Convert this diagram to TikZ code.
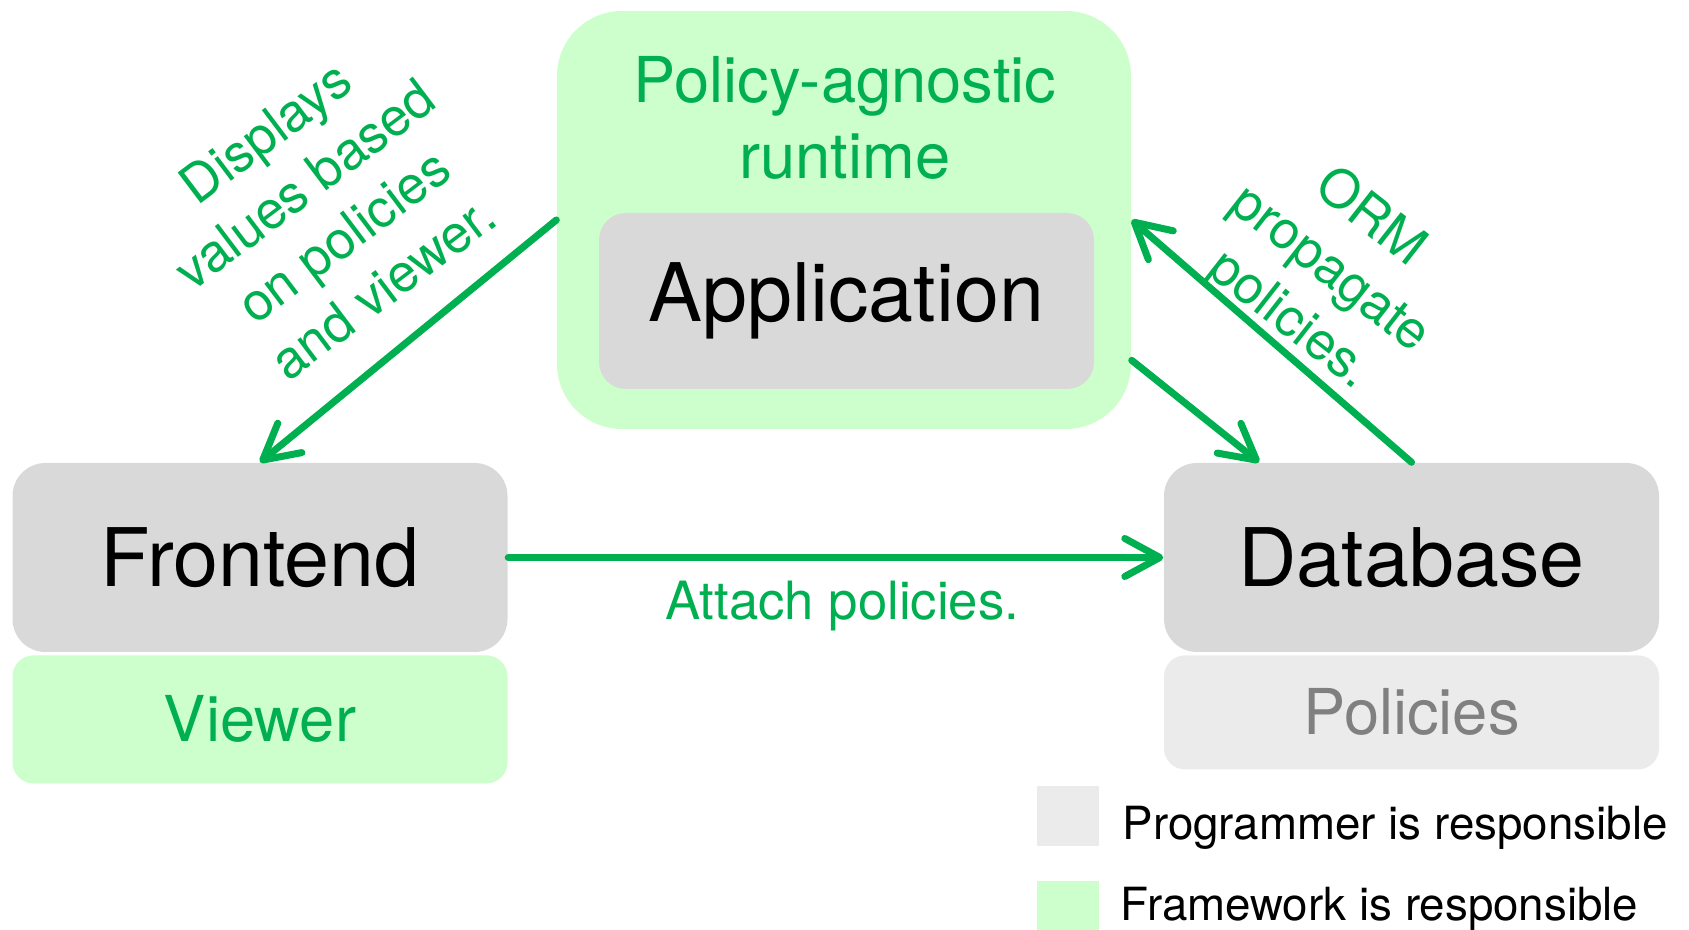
\documentclass[tikz,border=0pt]{standalone}
\usepackage{fontspec}
\setmainfont{TeX Gyre Heros}
\definecolor{fwgreen}{RGB}{0, 176, 80}
\definecolor{fwfill}{RGB}{204, 255, 204}
\definecolor{boxgray}{RGB}{217, 217, 217}
\definecolor{proggray}{RGB}{235, 235, 235}
\definecolor{textgray}{RGB}{128, 128, 128}
\usetikzlibrary{arrows.meta,positioning}

\begin{document}
\begin{tikzpicture}[x=1cm,y=1cm,
    box/.style={rounded corners=0.33cm,inner sep=0pt,minimum width=4.95cm,minimum height=1.89cm,fill=boxgray,font=\fontsize{23}{27}\selectfont},
    sub/.style={rounded corners=0.21cm,inner sep=0pt,minimum width=4.95cm,font=\fontsize{18}{21}\selectfont},
    flow/.style={line width=2pt,fwgreen,line cap=round,-{Straight Barb[length=3.5mm,width=3.8mm,round]}},
    lbl/.style={fwgreen,align=center,inner sep=0pt,font=\fontsize{15}{18.5}\selectfont},
    key/.style={inner sep=0pt,minimum width=0.62cm},
    keytext/.style={anchor=base west,inner sep=0pt,font=\fontsize{13}{15}\selectfont}]
  \useasboundingbox (0,0) rectangle (16.89,9.30);

  % runtime, application inside
  \node[fill=fwfill,inner sep=0pt,rounded corners=0.65cm,minimum width=5.74cm,minimum height=4.18cm] (runtime) at (8.44,7.10) {};
  \node[box,minimum height=1.76cm,rounded corners=0.27cm] (app) at (8.465,6.29) {Application};
  \node[fwgreen,align=center,inner sep=0pt,anchor=north,font=\fontsize{18}{21.6}\selectfont] (rtlabel) at (8.45,8.74) {Policy-agnostic\\runtime};

  % frontend and database
  \node[box] (frontend) at (2.60,3.725) {Frontend};
  \node[sub,fill=fwfill,text=fwgreen,minimum height=1.28cm,below=0.02cm of frontend] (viewer) {Viewer};
  \node[box] (database) at (14.115,3.725) {Database};
  \node[sub,fill=proggray,text=textgray,minimum height=1.14cm,below=0.02cm of database] (policies) {Policies};

  % flows
  \draw[flow] (runtime.west) -- (frontend.north);
  \draw[flow] (runtime.-26) -- (database.148);
  \draw[flow] (database.north) -- (runtime.east);
  \draw[flow] (frontend.east) -- node[lbl,below=0.2cm,pos=0.51] (attach) {Attach policies.} (database.west);
  \node[lbl,rotate=37] (displays) at (3.24,7.20) {Displays\\values based\\on policies\\and viewer.};
  \node[lbl,rotate=-38] (orm) at (13.29,6.60) {ORM\\propagate\\policies.};

  % legend
  \node[key,fill=proggray,minimum height=0.60cm] (progkey) at (10.68,1.14) {};
  \node[keytext] (progtext) at (11.22,0.90) {Programmer is responsible};
  \node[key,fill=fwfill,minimum height=0.49cm] (fwkey) at (10.68,0.245) {};
  \node[keytext] (fwtext) at (11.20,0.09) {Framework is responsible};
\end{tikzpicture}
\end{document}
